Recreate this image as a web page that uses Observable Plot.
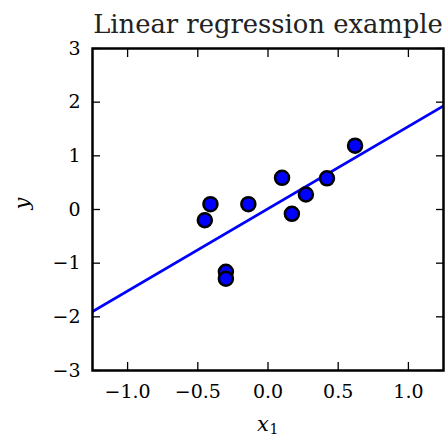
<!DOCTYPE html>
<html>
<head>
<meta charset="utf-8">
<script src="https://cdn.jsdelivr.net/npm/d3@7"></script>
<script src="https://cdn.jsdelivr.net/npm/@observablehq/plot@0.6"></script>
<style>
  html, body { margin: 0; padding: 0; background: #fff; }
  #chart svg { display: block; }
</style>
</head>
<body>
<div id="chart"></div>
<script>
const title = "Linear regression example";
const xValues = [-0.45, -0.41, -0.30, -0.30, -0.14, 0.10, 0.17, 0.27, 0.42, 0.62];
const yValues = [-0.20, 0.10, -1.16, -1.29, 0.10, 0.59, -0.08, 0.28, 0.58, 1.19];
const lineX = [-1.25, 1.25];
const lineY = [-1.90, 1.93];
const xTicks = [-1.0, -0.5, 0.0, 0.5, 1.0];
const yTicks = [-3, -2, -1, 0, 1, 2, 3];
const xDomain = [-1.25, 1.25];
const yDomain = [-3, 3];

const points = xValues.map((x, i) => ({x, y: yValues[i]}));
const line = lineX.map((x, i) => ({x, y: lineY[i]}));
const font = "DejaVu Serif";

const chart = Plot.plot({
  width: 446,
  height: 435,
  marginLeft: 92,
  marginRight: 3,
  marginTop: 48,
  marginBottom: 65,
  style: {fontFamily: font, background: "#fff", color: "#000"},
  x: {domain: xDomain},
  y: {domain: yDomain},
  marks: [
    Plot.line(line, {x: "x", y: "y", stroke: "#0000ff", strokeWidth: 2.8, clip: true}),
    Plot.dot(points, {x: "x", y: "y", r: 7, fill: "#0000ff", stroke: "#000", strokeWidth: 2.5}),
    // tick labels
    Plot.axisX(xTicks, {anchor: "bottom", tickSize: 0, tickPadding: 14, fontSize: 19, fontFamily: font, fontVariant: "normal", tickFormat: d3.format(".1f"), label: null}),
    Plot.axisY(yTicks, {anchor: "left", tickSize: 0, tickPadding: 12, fontSize: 19, fontFamily: font, fontVariant: "normal", tickFormat: d3.format("d"), label: null}),
    // inward ticks
    Plot.axisX(xTicks, {anchor: "bottom", tickSize: 8, dy: -8, fill: "none", label: null, strokeWidth: 1.3}),
    Plot.axisX(xTicks, {anchor: "top", tickSize: 8, dy: 8, fill: "none", label: null, strokeWidth: 1.3}),
    Plot.axisY(yTicks, {anchor: "left", tickSize: 8, dx: 8, fill: "none", label: null, strokeWidth: 1.3}),
    Plot.axisY(yTicks, {anchor: "right", tickSize: 8, dx: -8, fill: "none", label: null, strokeWidth: 1.3}),
    Plot.frame({stroke: "#000", strokeWidth: 2.5}),
    // title
    Plot.text([title], {frameAnchor: "top", dy: -16, lineAnchor: "bottom", fontSize: 25.8, fontFamily: font, fill: "#222"}),
    // axis labels
    Plot.text(["x"], {frameAnchor: "bottom", dx: -5, dy: 60, lineAnchor: "bottom", fontSize: 21, fontFamily: font, fontStyle: "italic"}),
    Plot.text(["1"], {frameAnchor: "bottom", dx: 6, dy: 63, lineAnchor: "bottom", fontSize: 14, fontFamily: font}),
    Plot.text(["y"], {frameAnchor: "left", dx: -70, rotate: -90, fontSize: 21, fontFamily: font, fontStyle: "italic"})
  ]
});
document.getElementById("chart").appendChild(chart);
</script>
</body>
</html>
